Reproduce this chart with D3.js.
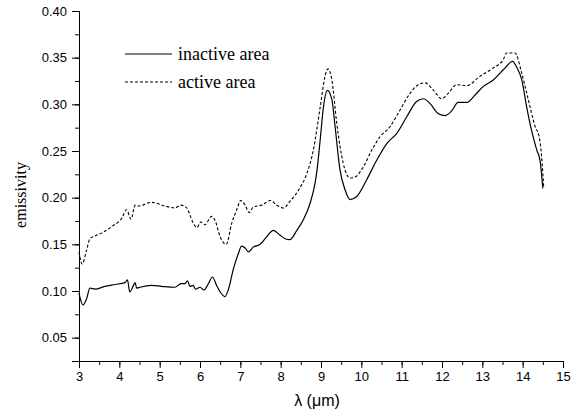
<!doctype html>
<html>
<head>
<meta charset="utf-8">
<style>
    body { margin: 0; background: #fff; }
    .tick text { font-family: "Liberation Sans", Arial, sans-serif; font-size: 13px; fill: #000; }
    .axis path, .axis line { stroke: #000; stroke-width: 1; }
    .serif { font-family: "Liberation Serif", "Times New Roman", serif; font-size: 16px; fill: #000; }
</style>
<script src="https://cdn.jsdelivr.net/npm/d3@7"></script>
</head>
<body>
<svg width="583" height="416"></svg>
<script>
// wavelength (um) / emissivity
var inactiveX = [3.0, 3.02, 3.1, 3.19, 3.27, 3.4, 3.64, 3.89, 4.14, 4.2, 4.26, 4.35, 4.39, 4.43, 4.51, 4.8, 5.05, 5.38, 5.53, 5.63, 5.69, 5.75, 5.83, 5.89, 6.0, 6.1, 6.21, 6.31, 6.41, 6.5, 6.62, 6.7, 6.83, 6.95, 7.03, 7.12, 7.2, 7.32, 7.49, 7.65, 7.82, 7.98, 8.11, 8.23, 8.4, 8.56, 8.73, 8.85, 8.9, 8.98, 9.06, 9.16, 9.27, 9.35, 9.47, 9.6, 9.72, 9.88, 10.13, 10.38, 10.63, 10.88, 11.13, 11.37, 11.54, 11.7, 11.91, 12.08, 12.24, 12.4, 12.61, 12.82, 13.02, 13.27, 13.52, 13.75, 13.85, 13.98, 14.1, 14.22, 14.35, 14.43, 14.5];
var inactiveY = [0.098, 0.094, 0.085, 0.092, 0.103, 0.102, 0.105, 0.107, 0.109, 0.112, 0.099, 0.106, 0.109, 0.103, 0.104, 0.106, 0.105, 0.104, 0.108, 0.108, 0.111, 0.105, 0.106, 0.102, 0.104, 0.101, 0.108, 0.115, 0.106, 0.099, 0.094, 0.101, 0.124, 0.140, 0.148, 0.146, 0.142, 0.147, 0.150, 0.158, 0.165, 0.160, 0.156, 0.155, 0.165, 0.176, 0.194, 0.215, 0.229, 0.262, 0.297, 0.315, 0.305, 0.276, 0.230, 0.208, 0.198, 0.201, 0.219, 0.240, 0.258, 0.269, 0.287, 0.303, 0.306, 0.301, 0.290, 0.288, 0.293, 0.302, 0.302, 0.310, 0.319, 0.326, 0.337, 0.346, 0.340, 0.326, 0.297, 0.272, 0.251, 0.240, 0.210];

var activeX = [3.0, 3.02, 3.08, 3.19, 3.27, 3.4, 3.56, 3.81, 4.06, 4.18, 4.29, 4.39, 4.47, 4.8, 5.13, 5.38, 5.53, 5.67, 5.83, 5.92, 6.02, 6.12, 6.29, 6.37, 6.5, 6.65, 6.79, 6.91, 7.01, 7.12, 7.22, 7.32, 7.53, 7.75, 7.9, 8.07, 8.23, 8.44, 8.65, 8.81, 8.98, 9.1, 9.17, 9.27, 9.39, 9.55, 9.72, 9.84, 10.05, 10.26, 10.46, 10.71, 10.96, 11.21, 11.41, 11.58, 11.79, 11.99, 12.16, 12.36, 12.61, 12.94, 13.27, 13.52, 13.6, 13.81, 13.98, 14.14, 14.31, 14.41, 14.47, 14.52];
var activeY = [0.142, 0.137, 0.129, 0.144, 0.156, 0.159, 0.162, 0.169, 0.178, 0.187, 0.177, 0.192, 0.191, 0.195, 0.191, 0.189, 0.192, 0.189, 0.173, 0.168, 0.174, 0.171, 0.180, 0.176, 0.158, 0.150, 0.173, 0.187, 0.197, 0.192, 0.184, 0.190, 0.192, 0.197, 0.192, 0.189, 0.196, 0.208, 0.226, 0.251, 0.297, 0.330, 0.338, 0.326, 0.280, 0.237, 0.221, 0.222, 0.233, 0.251, 0.265, 0.276, 0.294, 0.312, 0.321, 0.323, 0.315, 0.306, 0.312, 0.321, 0.320, 0.330, 0.339, 0.348, 0.355, 0.355, 0.333, 0.305, 0.276, 0.265, 0.244, 0.212];

var xTicks = [3, 4, 5, 6, 7, 8, 9, 10, 11, 12, 13, 14, 15];
var yTicks = [0.05, 0.10, 0.15, 0.20, 0.25, 0.30, 0.35, 0.40];

var svg = d3.select("svg");
var plotLeft = 79, plotRight = 563, plotTop = 11, plotBottom = 361;

var x = d3.scaleLinear().domain([3, 15]).range([plotLeft, plotRight]);
var y = d3.scaleLinear().domain([0.025, 0.40]).range([plotBottom, plotTop]);

// minor ticks first
var xMinor = d3.range(3, 15.01, 0.5);
var yMinor = d3.range(0.025, 0.401, 0.025);

svg.append("g")
    .attr("class", "axis")
    .attr("transform", "translate(0," + plotBottom + ")")
    .call(d3.axisBottom(x).tickValues(xMinor).tickSize(4).tickFormat(""));

svg.append("g")
    .attr("class", "axis")
    .attr("transform", "translate(" + plotLeft + ",0)")
    .call(d3.axisLeft(y).tickValues(yMinor).tickSize(4).tickFormat(""));

svg.append("g")
    .attr("class", "axis")
    .attr("transform", "translate(0," + plotBottom + ")")
    .call(d3.axisBottom(x).tickValues(xTicks).tickSize(7).tickPadding(4).tickFormat(d3.format("d")));

svg.append("g")
    .attr("class", "axis")
    .attr("transform", "translate(" + plotLeft + ",0)")
    .call(d3.axisLeft(y).tickValues(yTicks).tickSize(7).tickPadding(5).tickFormat(d3.format(".2f")));

svg.selectAll(".domain").attr("stroke-width", 1.2);

function toPoints(xs, ys) {
    return xs.map(function(d, i) { return [d, ys[i]]; });
}

var line = d3.line()
    .x(function(d) { return x(d[0]); })
    .y(function(d) { return y(d[1]); })
    .curve(d3.curveMonotoneX);

svg.append("path")
    .datum(toPoints(inactiveX, inactiveY))
    .attr("fill", "none")
    .attr("stroke", "#000")
    .attr("stroke-width", 1.2)
    .attr("d", line);

svg.append("path")
    .datum(toPoints(activeX, activeY))
    .attr("fill", "none")
    .attr("stroke", "#000")
    .attr("stroke-width", 1.1)
    .attr("stroke-dasharray", "3,2")
    .attr("d", line);

// axis titles
svg.append("text")
    .attr("x", 317)
    .attr("y", 406)
    .attr("text-anchor", "middle")
    .attr("font-family", "'Liberation Sans', Arial, sans-serif")
    .attr("font-size", "16px")
    .text("λ (μm)");

svg.append("text")
    .attr("class", "serif")
    .attr("transform", "translate(26,195) rotate(-90)")
    .attr("text-anchor", "middle")
    .text("emissivity");

// legend
var legend = [
    { name: "inactive area", dash: null, y: 54 },
    { name: "active area", dash: "3,2", y: 82 }
];
legend.forEach(function(d) {
    svg.append("line")
        .attr("x1", 125).attr("x2", 172)
        .attr("y1", d.y).attr("y2", d.y)
        .attr("stroke", "#000")
        .attr("stroke-width", 1.1)
        .attr("stroke-dasharray", d.dash);
    svg.append("text")
        .attr("class", "serif")
        .attr("font-size", "18px")
        .style("font-size", "18px")
        .attr("x", 178)
        .attr("y", d.y + 6)
        .text(d.name);
});
</script>
</body>
</html>
